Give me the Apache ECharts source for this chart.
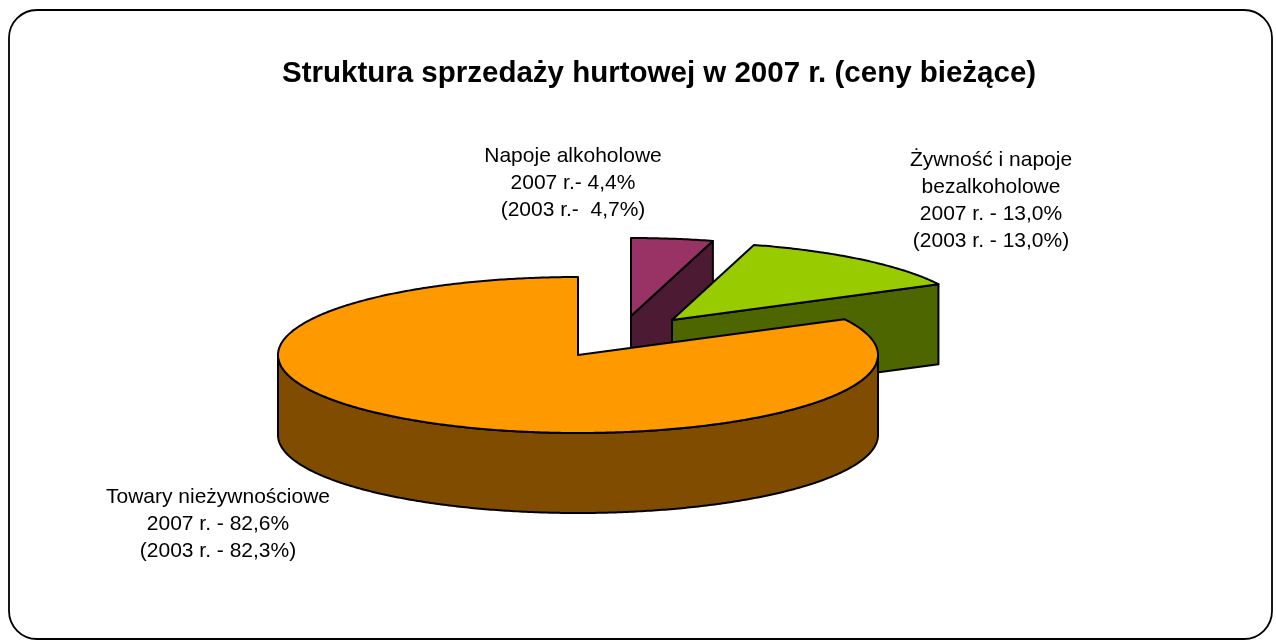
<!DOCTYPE html>
<html>
<head>
<meta charset="utf-8">
<script src="https://cdn.jsdelivr.net/npm/echarts@6/dist/echarts.min.js"></script>
<style>
  html, body { margin: 0; padding: 0; background: #fff; }
  #chart { width: 1276px; height: 641px; }
</style>
</head>
<body>
<div id="chart"></div>
<script>
// dane (udzial w sprzedazy hurtowej, %)
const categories = ['Napoje alkoholowe', 'Żywność i napoje bezalkoholowe', 'Towary nieżywnościowe']
const nameLines = [['Napoje alkoholowe'], ['Żywność i napoje', 'bezalkoholowe'], ['Towary nieżywnościowe']]
const share2007 = [4.4, 13.0, 82.6]
const share2003 = [4.7, 13.0, 82.3]

// wyglad
const cx = 578, cy = 355, rx = 300, ry = 78, depth = 80
const explode = [[53, -39], [94, -35], [0, 0]]
const topColors = ['#993366', '#99CC00', '#FF9900']
const sideColors = ['#4D1A33', '#4D6600', '#804D00']
const labelPos = [[573, 143], [991, 147], [218, 484]]
const sep07 = ['.- ', '. - ', '. - ']
const sep03 = ['.-  ', '. - ', '. - ']

const fmt = v => v.toFixed(1).replace('.', ',') + '%'
const labelText = i =>
  nameLines[i].concat([
    '2007 r' + sep07[i] + fmt(share2007[i]),
    '(2003 r' + sep03[i] + fmt(share2003[i]) + ')'
  ]).join('\n')

const total = share2007.reduce((a, b) => a + b, 0)
const starts = []
let acc = 0
share2007.forEach(v => { starts.push(acc / total * 2 * Math.PI); acc += v })

//punkty na elipsie
function arc(px, py, a0, a1, dy) {
  const pts = []
  const n = Math.max(2, Math.ceil((a1 - a0) / 0.01))
  for (let k = 0; k <= n; k++) {
    const t = a0 + (a1 - a0) * k / n
    pts.push([px + rx * Math.sin(t), py - ry * Math.cos(t) + dy])
  }
  return pts
}

const chart = echarts.init(document.getElementById('chart'))

const option = {
  animation: false,
  title: {
    text: 'Struktura sprzedaży hurtowej w 2007 r. (ceny bieżące)',
    left: 277,
    top: 54,
    textStyle: { fontSize: 29.5, fontWeight: 'bold', color: '#000', fontFamily: '"Liberation Sans", Arial, sans-serif' }
  },
  graphic: [{
    type: 'rect',
    shape: { x: 9, y: 10, width: 1263, height: 629, r: 28 },
    style: { fill: 'none', stroke: '#000', lineWidth: 1.8 },
    silent: true
  }],
  series: [{
    type: 'custom',
    coordinateSystem: 'none',
    data: share2007.map((v, i) => ({ name: categories[i], value: v })),
    renderItem: (params, api) => {
      const i = params.dataIndex
      const a0 = starts[i]
      const a1 = a0 + api.value(0) / total * 2 * Math.PI
      const px = cx + explode[i][0], py = cy + explode[i][1]
      const line = { stroke: '#000', lineWidth: 2, lineJoin: 'round' }
      const children = []
      //sciana zewnetrzna
      const w0 = Math.max(a0, Math.PI / 2), w1 = Math.min(a1, 1.5 * Math.PI)
      if (w1 > w0) {
        const top = arc(px, py, w0, w1, 0)
        const bot = arc(px, py, w0, w1, depth).reverse()
        children.push({ type: 'polygon', shape: { points: top.concat(bot) }, style: { fill: sideColors[i], ...line } })
      }
      //sciany boczne
      const radial = a => {
        const r = [px + rx * Math.sin(a), py - ry * Math.cos(a)]
        return {
          type: 'polygon',
          shape: { points: [[px, py], r, [r[0], r[1] + depth], [px, py + depth]] },
          style: { fill: sideColors[i], ...line }
        }
      }
      if (Math.sin(a0) < -1e-6) children.push(radial(a0))
      if (Math.sin(a1) > 1e-6) children.push(radial(a1))
      //wierzch
      children.push({
        type: 'polygon',
        shape: { points: [[px, py]].concat(arc(px, py, a0, a1, 0)) },
        style: { fill: topColors[i], ...line }
      })
      children.push({
        type: 'text',
        x: labelPos[i][0],
        y: labelPos[i][1],
        style: {
          text: labelText(i),
          fill: '#000',
          font: '21px "Liberation Sans", Arial, sans-serif',
          align: 'center',
          verticalAlign: 'top',
          lineHeight: 27
        }
      })
      return { type: 'group', children }
    }
  }]
}
chart.setOption(option)
</script>
</body>
</html>
